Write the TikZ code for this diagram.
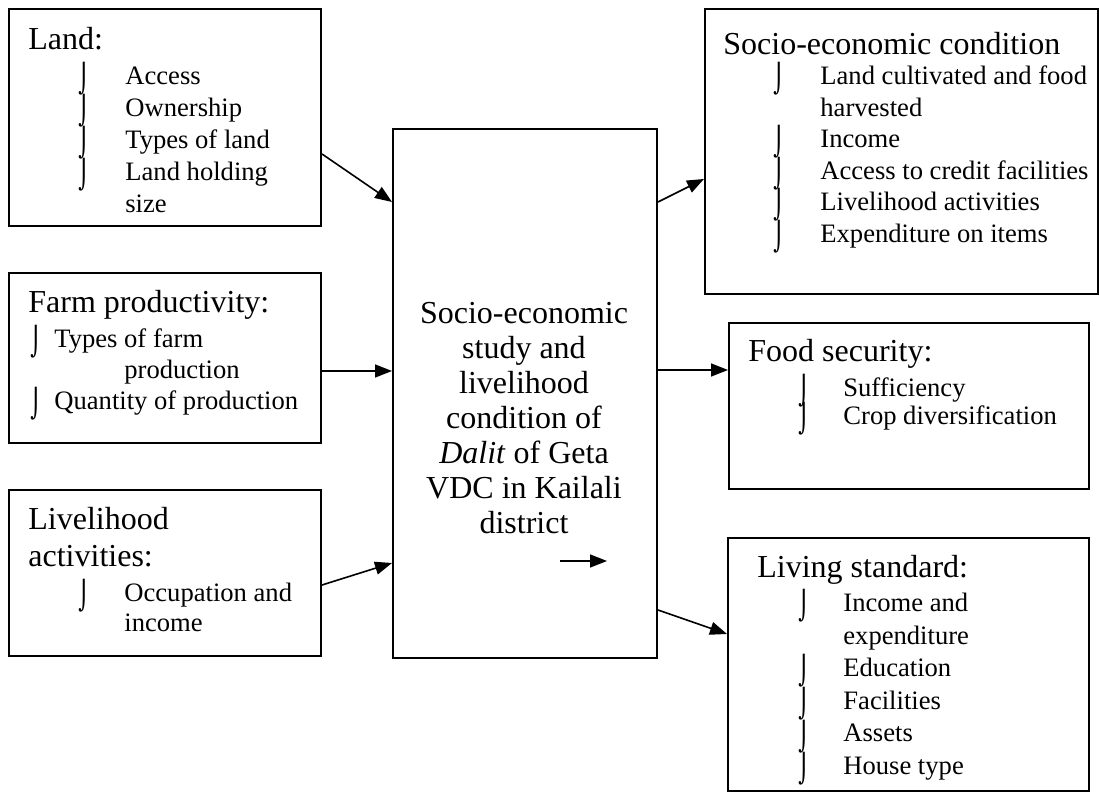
\documentclass[tikz,border=0pt]{standalone}
\usepackage{fontspec}
\setmainfont{Liberation Serif}
\newfontfamily\symfont{DejaVu Sans}
\usetikzlibrary{arrows.meta}
\newcommand{\hk}{\raisebox{-2pt}{\smash{\scalebox{0.8}[1.05]{\symfont\char"2321}}}}
\newcommand{\itm}[2][23.5pt]{\makebox[#1][l]{\hk}#2}
\newcommand{\lst}[1]{\begin{tabular}[t]{@{}l@{}}#1\end{tabular}}
\tikzset{
    frame-box/.style = {draw, line width=1pt, rectangle, anchor=north west, inner sep=0pt},
    box-title/.style = {anchor=base west, inner sep=0pt, font=\fontsize{16}{18.5}\selectfont},
    box-list/.style = {anchor=base west, inner sep=0pt, font=\fontsize{13.3}{#1}\selectfont},
    box-list/.default = 16pt,
    link/.style = {-{Triangle[length=8.5pt,width=6.5pt]}, line width=0.8pt},
}
\begin{document}
\begin{tikzpicture}[x=1pt,y=-1pt]
\useasboundingbox (0,0) rectangle (549.5,398);
% left boxes
\node[frame-box, minimum width=156pt, minimum height=108.5pt] (land) at (4,4) {};
\node[box-title] (land-title) at (14,25) {Land:};
\node[box-list] (land-list) at (39,42.5) {\lst{\itm{Access}\\ \itm{Ownership}\\ \itm{Types of land}\\ \itm{Land holding}\\ \hspace*{23.5pt}size}};

\node[frame-box, minimum width=156pt, minimum height=85pt] (farm) at (4,136) {};
\node[box-title] (farm-title) at (14,156.5) {Farm productivity:};
\node[box-list=15.5pt] (farm-list) at (15,174) {\lst{\itm[12pt]{Types of farm}\\ \hspace*{47pt}production\\ \itm[12pt]{Quantity of production}}};

\node[frame-box, minimum width=156pt, minimum height=83pt] (livac) at (4,244.5) {};
\node[box-title] (livac-title) at (14,265) {\lst{Livelihood\\ activities:}};
\node[box-list=15pt] (livac-list) at (39,301) {\lst{\itm[23pt]{Occupation and}\\ \hspace*{23pt}income}};

% central box
\node[frame-box, minimum width=132pt, minimum height=264.5pt] (study) at (196,64) {};
\node[align=center, font=\fontsize{16}{17.5}\selectfont] (study-text) at (262,209) {Socio-economic\\ study and\\ livelihood\\ condition of\\ \textit{Dalit} of Geta\\ VDC in Kailali\\ district};
\coordinate (tail) at (280,280.5);
\coordinate (tip) at (303.5,280.5);
\draw[link] (tail) -- (tip);

% right boxes
\node[frame-box, minimum width=196.5pt, minimum height=142.5pt] (secon) at (352,4) {};
\node[box-title] (secon-title) at (361.5,27.5) {Socio-economic condition};
\node[box-list=15.75pt] (secon-list) at (386.5,42.5) {\lst{\itm{Land cultivated and food}\\ \hspace*{23.5pt}harvested\\ \itm{Income}\\ \itm{Access to credit facilities}\\ \itm{Livelihood activities}\\ \itm{Expenditure on items}}};

\node[frame-box, minimum width=180pt, minimum height=83pt] (food) at (364,161) {};
\node[box-title] (food-title) at (374,181) {Food security:};
\node[box-list=14pt] (food-list) at (399,198.5) {\lst{\itm[22.5pt]{Sufficiency}\\ \itm[22.5pt]{Crop diversification}}};

\node[frame-box, minimum width=180.5pt, minimum height=126.5pt] (living) at (363.5,268.5) {};
\node[box-title] (living-title) at (378.5,289) {Living standard:};
\node[box-list=16.25pt] (living-list) at (399,306) {\lst{\itm[22.5pt]{Income and}\\ \hspace*{22.5pt}expenditure\\ \itm[22.5pt]{Education}\\ \itm[22.5pt]{Facilities}\\ \itm[22.5pt]{Assets}\\ \itm[22.5pt]{House type}}};

% connectors
\draw[link] ([yshift=-18.25pt]land.east) -- ([yshift=95.75pt]study.west);
\draw[link] ([yshift=-6.5pt]farm.east) -- ([yshift=11.25pt]study.west);
\draw[link] ([yshift=-6pt]livac.east) -- ([yshift=-84.75pt]study.west);
\draw[link] ([yshift=95.75pt]study.east) -- ([yshift=-13.75pt]secon.west);
\draw[link] ([yshift=11.75pt]study.east) -- ([yshift=18pt]food.west);
\draw[link] ([yshift=-108.25pt]study.east) -- ([yshift=15.25pt]living.west);
\end{tikzpicture}
\end{document}
